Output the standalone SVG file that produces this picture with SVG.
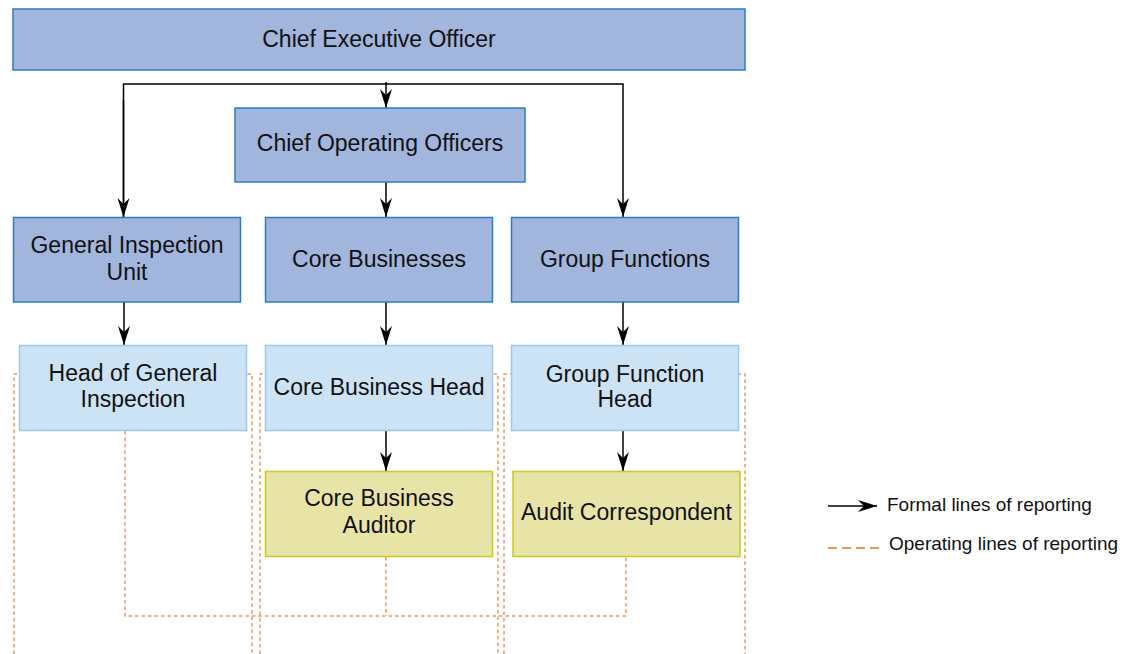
<svg xmlns="http://www.w3.org/2000/svg" width="1136" height="654" viewBox="0 0 1136 654">
<defs>
<style>
text{font-family:"Liberation Sans",Arial,sans-serif;font-size:23px;fill:#111;text-anchor:middle}
.lg{font-size:19px;text-anchor:start}
.dk{fill:#a2b5dc;stroke:#2a7fc0;stroke-width:1.5}
.lt{fill:#cce2f5;stroke:#9ccaee;stroke-width:1.5}
.yl{fill:#e8e4a8;stroke:#c8c820;stroke-width:1.5}
.f{fill:none;stroke:#000;stroke-width:1.5}
.o{fill:none;stroke:#f0965a;stroke-width:1.5;stroke-dasharray:3.5,3}
</style>
<marker id="ah" viewBox="-20 -7 21 14" refX="0" refY="0" markerWidth="21" markerHeight="14" markerUnits="userSpaceOnUse" orient="auto">
<path d="M0,0 L-19,-6 L-13,0 L-19,6 Z" fill="#000"/>
</marker>
</defs>
<g id="operating-lines">
<path class="o" d="M14,654 V374 H252 V654"/>
<path class="o" d="M260,654 V374 H498 V654"/>
<path class="o" d="M504,654 V374 H745 V654"/>
<path class="o" d="M125,431 V616 H626 V557"/>
<path class="o" d="M386,557 V616"/>
</g>
<g id="connectors">
<path class="f" d="M123.5,217 V84 H623 V217" marker-end="url(#ah)"/>
<path class="f" d="M123.5,100 V217" marker-end="url(#ah)"/>
<path class="f" d="M386,82 V108" marker-end="url(#ah)"/>
<path class="f" d="M386,182 V217" marker-end="url(#ah)"/>
<path class="f" d="M124,302 V345" marker-end="url(#ah)"/>
<path class="f" d="M386,302 V345" marker-end="url(#ah)"/>
<path class="f" d="M623,302 V345" marker-end="url(#ah)"/>
<path class="f" d="M386,430 V471" marker-end="url(#ah)"/>
<path class="f" d="M623,430 V471" marker-end="url(#ah)"/>
</g>
<g id="ceo"><rect class="dk" x="13" y="9" width="732" height="61"/><text x="379" y="47">Chief Executive Officer</text></g>
<g id="coo"><rect class="dk" x="235" y="108" width="290" height="74"/><text x="380" y="151">Chief Operating Officers</text></g>
<g id="general-inspection-unit"><rect class="dk" x="13.5" y="217.5" width="227" height="84.5"/><text x="127" y="252.5">General Inspection</text><text x="127" y="280">Unit</text></g>
<g id="core-businesses"><rect class="dk" x="265.5" y="217.5" width="227" height="84.5"/><text x="379" y="267">Core Businesses</text></g>
<g id="group-functions"><rect class="dk" x="511.5" y="217.5" width="227" height="84.5"/><text x="625" y="267">Group Functions</text></g>
<g id="head-general-inspection"><rect class="lt" x="19.5" y="345.5" width="227" height="85"/><text x="133" y="381">Head of General</text><text x="133" y="407">Inspection</text></g>
<g id="core-business-head"><rect class="lt" x="265.5" y="345.5" width="227" height="85"/><text x="379" y="394.5">Core Business Head</text></g>
<g id="group-function-head"><rect class="lt" x="511.5" y="345.5" width="227" height="85"/><text x="625" y="382">Group Function</text><text x="625" y="407">Head</text></g>
<g id="core-business-auditor"><rect class="yl" x="265.5" y="471.5" width="227" height="85"/><text x="379" y="506">Core Business</text><text x="379" y="533">Auditor</text></g>
<g id="audit-correspondent"><rect class="yl" x="513" y="471.5" width="227" height="85"/><text x="626.5" y="520">Audit Correspondent</text></g>
<g id="legend">
<path class="f" d="M828,506 H877" marker-end="url(#ah)"/>
<text class="lg" x="887" y="511">Formal lines of reporting</text>
<path d="M828,548 H880" fill="none" stroke="#f0965a" stroke-width="2" stroke-dasharray="9,5"/>
<text class="lg" x="889" y="550">Operating lines of reporting</text>
</g>
</svg>
